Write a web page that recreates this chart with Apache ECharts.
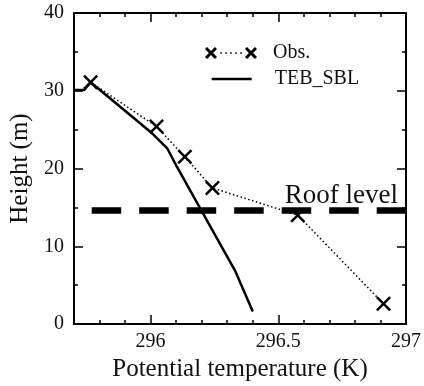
<!DOCTYPE html>
<html>
<head>
<meta charset="utf-8">
<script src="https://cdn.jsdelivr.net/npm/echarts@6/dist/echarts.min.js"></script>
<style>
  html, body { margin: 0; padding: 0; background: #fff; }
  #main { width: 424px; height: 386px; }
</style>
</head>
<body>
<div id="main"></div>
<script>
// observed profile: potential temperature (K) and height (m)
var obsTemp = [295.765, 296.023, 296.134, 296.242, 296.576, 296.912];
var obsHeight = [31.1, 25.4, 21.5, 17.5, 14.0, 2.6];
// TEB_SBL model profile
var modelTemp = [295.70, 295.74, 295.765, 296.00, 296.065, 296.10, 296.33, 296.40];
var modelHeight = [30.1, 30.1, 31.1, 24.7, 22.6, 20.4, 6.9, 1.6];
var roofLevel = 14.6;
var xMajorTicks = [296, 296.5, 297];

var FONT = "Liberation Serif";
var crossPath = "path://M1.4,0L6,4.6L10.6,0L12,1.4L7.4,6L12,10.6L10.6,12L6,7.4L1.4,12L0,10.6L4.6,6L0,1.4Z";
// legend icon: x ... x
var obsIcon = "path://M2.1,0L6,3.9L9.9,0L12,2.1L8.1,6L12,9.9L9.9,12L6,8.1L2.1,12L0,9.9L3.9,6L0,2.1Z" +
  "M42.1,0L46,3.9L49.9,0L52,2.1L48.1,6L52,9.9L49.9,12L46,8.1L42.1,12L40,9.9L43.9,6L40,2.1Z" +
  "M15.2,5.2h1.6v1.6h-1.6Z M20.2,5.2h1.6v1.6h-1.6Z M25.2,5.2h1.6v1.6h-1.6Z M30.2,5.2h1.6v1.6h-1.6Z M35.2,5.2h1.6v1.6h-1.6Z";

function pairs(xs, ys) {
  return xs.map(function (x, i) { return [x, ys[i]]; });
}

var myChart = echarts.init(document.getElementById("main"), null, { renderer: "canvas" });

var axisLineStyle = { color: "#000", width: 2 };
var labelStyle = { fontFamily: FONT, fontSize: 20, color: "#111" };

function xAxisDef(pos, major, withLabels) {
  return {
    type: "value",
    position: pos,
    min: 295.7,
    max: 297,
    interval: 0.1,
    axisLine: { show: !major, onZero: false, lineStyle: axisLineStyle },
    axisTick: major
      ? { show: true, inside: true, length: 9, customValues: xMajorTicks, lineStyle: { color: "#000", width: 1.5 } }
      : { show: true, inside: true, length: 4, lineStyle: { color: "#000", width: 1.5 } },
    axisLabel: withLabels
      ? Object.assign({ show: true, margin: 8, customValues: xMajorTicks }, labelStyle)
      : { show: false },
    splitLine: { show: false }
  };
}

function yAxisDef(pos, withLabels) {
  return {
    type: "value",
    position: pos,
    min: 0,
    max: 40,
    interval: 10,
    axisLine: { show: true, onZero: false, lineStyle: axisLineStyle },
    axisTick: { show: true, inside: true, length: 9, lineStyle: { color: "#000", width: 1.5 } },
    minorTick: { show: true, splitNumber: 2, length: 4, lineStyle: { color: "#000", width: 1.5 } },
    axisLabel: withLabels ? Object.assign({ show: true, margin: 10 }, labelStyle) : { show: false },
    splitLine: { show: false }
  };
}

var xBottom = xAxisDef("bottom", false, true);
xBottom.name = "Potential temperature (K)";
xBottom.nameLocation = "middle";
xBottom.nameGap = 42;
xBottom.nameTextStyle = { fontFamily: FONT, fontSize: 25, color: "#111", verticalAlign: "middle" };

var yLeft = yAxisDef("left", true);
yLeft.name = "Height (m)";
yLeft.nameLocation = "middle";
yLeft.nameGap = 51;
yLeft.nameTextStyle = { fontFamily: FONT, fontSize: 25, color: "#111", verticalAlign: "middle" };

var option = {
  animation: false,
  backgroundColor: "#fff",
  grid: { left: 74, right: 18, top: 13, bottom: 62, containLabel: false, outerBoundsMode: "none" },
  legend: [
    {
      data: [{ name: "Obs.", icon: obsIcon }],
      left: 205,
      top: 43,
      padding: 0,
      itemWidth: 52,
      itemHeight: 12,
      selectedMode: false,
      textStyle: { fontFamily: FONT, fontSize: 20, color: "#111", padding: [0, 0, 0, 11] }
    },
    {
      data: [{ name: "TEB_SBL", icon: "rect" }],
      left: 211.7,
      top: 69,
      padding: 0,
      itemWidth: 40,
      itemHeight: 2.5,
      selectedMode: false,
      textStyle: { fontFamily: FONT, fontSize: 20, color: "#111", padding: [0, 0, 0, 18] }
    }
  ],
  xAxis: [
    xBottom,
    xAxisDef("bottom", true, false),
    xAxisDef("top", false, false),
    xAxisDef("top", true, false)
  ],
  yAxis: [yLeft, yAxisDef("right", false)],
  series: [
    {
      name: "Obs.",
      type: "line",
      data: pairs(obsTemp, obsHeight),
      symbol: crossPath,
      symbolSize: 15,
      itemStyle: { color: "#000", borderWidth: 0 },
      lineStyle: { color: "#000", width: 1.5, type: [1.5, 2.5] },
      z: 3
    },
    {
      name: "TEB_SBL",
      type: "line",
      data: pairs(modelTemp, modelHeight),
      symbol: "none",
      itemStyle: { color: "#000" },
      lineStyle: { color: "#000", width: 2.5 },
      markLine: {
        silent: true,
        symbol: ["none", "none"],
        data: [{ yAxis: roofLevel }],
        lineStyle: { color: "#000", width: 6.5, type: [29.5, 18], dashOffset: 29.8 },
        label: {
          show: true,
          position: "insideEndTop",
          formatter: "Roof level",
          fontFamily: FONT,
          fontSize: 27,
          color: "#111",
          distance: [8, 1]
        }
      },
      z: 2
    }
  ]
};

myChart.setOption(option);
</script>
</body>
</html>
